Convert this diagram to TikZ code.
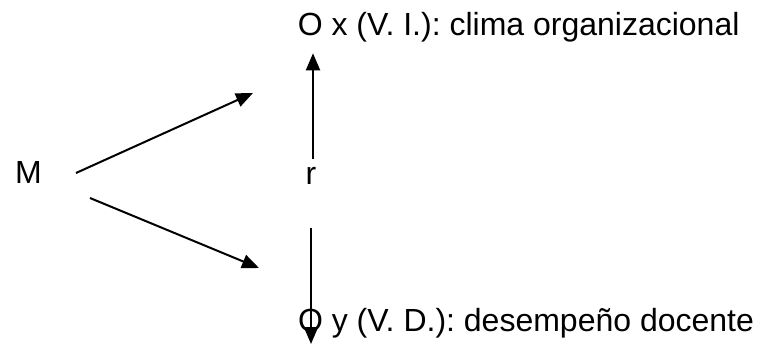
\documentclass[tikz,border=0pt]{standalone}
\usepackage{fontspec}
\setmainfont{Liberation Sans}
\usetikzlibrary{arrows.meta}
\begin{document}
\frenchspacing
\begin{tikzpicture}[x=1pt,y=-1pt,
  lbl/.style={anchor=base west,inner sep=0pt,outer sep=0pt,font=\fontsize{32}{36}\selectfont},
  conn/.style={line width=2pt,-{Triangle[length=17pt,width=14pt]}}]
\useasboundingbox (0,0) rectangle (760,345);
\node[lbl] (ox) at (297.8,35.5) {O x (V. I.): clima organizacional};
\node[lbl] (oy) at (298,331.7) {O y (V. D.): desempeño docente};
\node[lbl] (m) at (15,183.3) {M};
\node[lbl] (r) at (305.6,184) {r};
\coordinate (m1) at (76,173);
\coordinate (m2) at (90,198);
\coordinate (t1) at (253,93);
\coordinate (t2) at (259,268);
\coordinate (ru) at (313,159.3);
\coordinate (rut) at (313,53.3);
\coordinate (rd) at (311,228);
\coordinate (rdt) at (311,344);
\draw[conn] (m1) -- (t1);
\draw[conn] (m2) -- (t2);
\draw[conn] (ru) -- (rut);
\draw[conn] (rd) -- (rdt);
\end{tikzpicture}
\end{document}
